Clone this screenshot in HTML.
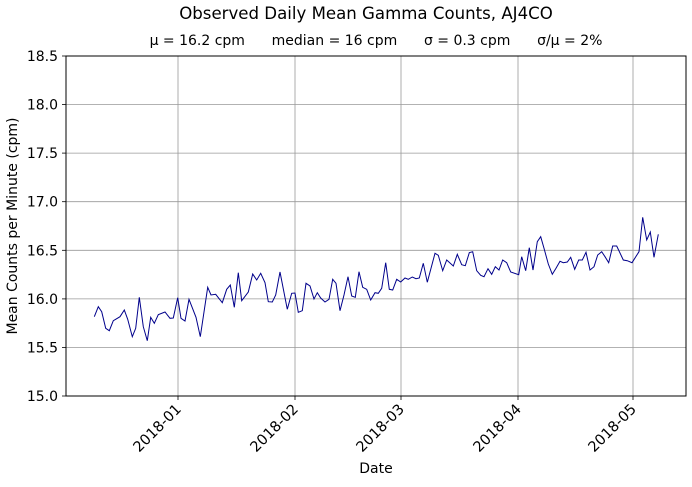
<!DOCTYPE html>
<html><head><style>body{margin:0;background:#fff}</style></head><body>
<svg width="692" height="482" viewBox="0 0 692 482" xmlns="http://www.w3.org/2000/svg" font-family="DejaVu Sans, Liberation Sans, sans-serif">
<rect width="692" height="482" fill="#fff"/>
<g stroke="#999" stroke-width="0.8">
<line x1="66" x2="686" y1="104.6" y2="104.6"/><line x1="66" x2="686" y1="153.1" y2="153.1"/><line x1="66" x2="686" y1="201.7" y2="201.7"/><line x1="66" x2="686" y1="250.3" y2="250.3"/><line x1="66" x2="686" y1="298.9" y2="298.9"/><line x1="66" x2="686" y1="347.4" y2="347.4"/>
<line x1="178" x2="178" y1="56" y2="396"/><line x1="295" x2="295" y1="56" y2="396"/><line x1="401" x2="401" y1="56" y2="396"/><line x1="518" x2="518" y1="56" y2="396"/><line x1="633" x2="633" y1="56" y2="396"/>
</g>
<polyline fill="none" stroke="#00008b" stroke-width="1" points="94.3,316.7 98.3,306.7 101.7,311.7 105.7,328.3 109.3,330.7 113.3,320.7 120,316.7 124.3,310 127.7,319.3 132.3,336.7 135.7,328.3 139.3,297.3 143.3,326.7 147.3,340.7 150.7,317.3 154.3,323.3 158.3,314.7 165,312 170,318.3 173.3,318 177.7,297.7 181,318.3 185,321 189,299.3 196,317.3 200.3,336.7 207.7,287.3 211,295 215.7,294.3 222.3,302.7 226.7,289.3 230.3,285 234.3,307.3 238.3,272.7 241.7,300.7 248.3,292 252.7,274 256.7,280 260.7,273.3 265,282.7 268.3,301.7 272.3,302 275.7,295 280,272 287.3,309.3 291.7,293.3 295,293 298.3,312.3 302.3,310.7 306,283.3 310,286 314,299 317.3,292.7 320.7,298 325,302 329,299.3 332.7,279.3 336,283.3 340,310.7 344,295 348,276.7 351.7,296 355.3,297.3 359,271.7 362.7,287.3 366.7,289.3 370.7,300 375,292.7 378.3,293.3 381.7,288.3 385.7,262.7 389.3,289.3 392.7,290 396.7,279.3 400.7,282 405,278 408.3,279.3 412.3,277 416,278.7 419.3,278 423.3,263.3 427.3,282.3 435,253.3 438.3,255.3 442.7,270.7 446.7,260 453.3,266 457.3,254.3 461.7,264.7 465.3,265.7 469.3,252.7 472.7,251.7 476.7,270.7 480.7,275.3 484,276.7 488,268.7 491.7,274.3 495.3,266.7 499,270 502.7,260 506.7,262.7 510.7,272 518.7,274.7 521.7,256.7 525.7,270.7 529.3,247.7 533,270 537.3,241.7 540.7,236.7 544,248.3 548.3,264 552.3,274.3 556,268.3 560,261.3 563.3,262.7 567.3,262 570.7,257.3 574.7,269.3 578.7,260 582.3,260 586,252.3 590,270 594,266.7 597.7,255 601.7,251.7 605,256.7 608.7,262.7 612.7,246 616.7,246 623.3,260 627.3,260.7 632,262.7 639,251.7 642.7,217.3 646.7,240 650.3,232 654,257.3 658.3,234.3"/>
<rect x="66" y="56" width="620" height="340" fill="none" stroke="#000" stroke-width="1"/>
<g stroke="#000" stroke-width="0.8">
<line x1="62" x2="66" y1="56" y2="56"/><line x1="62" x2="66" y1="104.6" y2="104.6"/><line x1="62" x2="66" y1="153.1" y2="153.1"/><line x1="62" x2="66" y1="201.7" y2="201.7"/><line x1="62" x2="66" y1="250.3" y2="250.3"/><line x1="62" x2="66" y1="298.9" y2="298.9"/><line x1="62" x2="66" y1="347.4" y2="347.4"/><line x1="62" x2="66" y1="396" y2="396"/>
<line x1="178" x2="178" y1="396" y2="400"/><line x1="295" x2="295" y1="396" y2="400"/><line x1="401" x2="401" y1="396" y2="400"/><line x1="518" x2="518" y1="396" y2="400"/><line x1="633" x2="633" y1="396" y2="400"/>
</g>
<g font-size="14" text-anchor="end" fill="#000">
<text x="58" y="61">18.5</text><text x="58" y="109.6">18.0</text><text x="58" y="158.1">17.5</text><text x="58" y="206.7">17.0</text><text x="58" y="255.3">16.5</text><text x="58" y="303.9">16.0</text><text x="58" y="352.4">15.5</text><text x="58" y="401">15.0</text>
</g>
<g font-size="14.5" text-anchor="end" fill="#000">
<text transform="translate(182,410) rotate(-45)">2018-01</text>
<text transform="translate(299,410) rotate(-45)">2018-02</text>
<text transform="translate(405,410) rotate(-45)">2018-03</text>
<text transform="translate(522,410) rotate(-45)">2018-04</text>
<text transform="translate(637,410) rotate(-45)">2018-05</text>
</g>
<text x="376" y="473" font-size="14" text-anchor="middle">Date</text>
<text transform="translate(17,226) rotate(-90)" font-size="14" text-anchor="middle">Mean Counts per Minute (cpm)</text>
<text x="366" y="19" font-size="16.6" text-anchor="middle">Observed Daily Mean Gamma Counts, AJ4CO</text>
<text x="376" y="45" font-size="14" text-anchor="middle" xml:space="preserve">μ = 16.2 cpm      median = 16 cpm      σ = 0.3 cpm      σ/μ = 2%</text>
</svg>
</body></html>
